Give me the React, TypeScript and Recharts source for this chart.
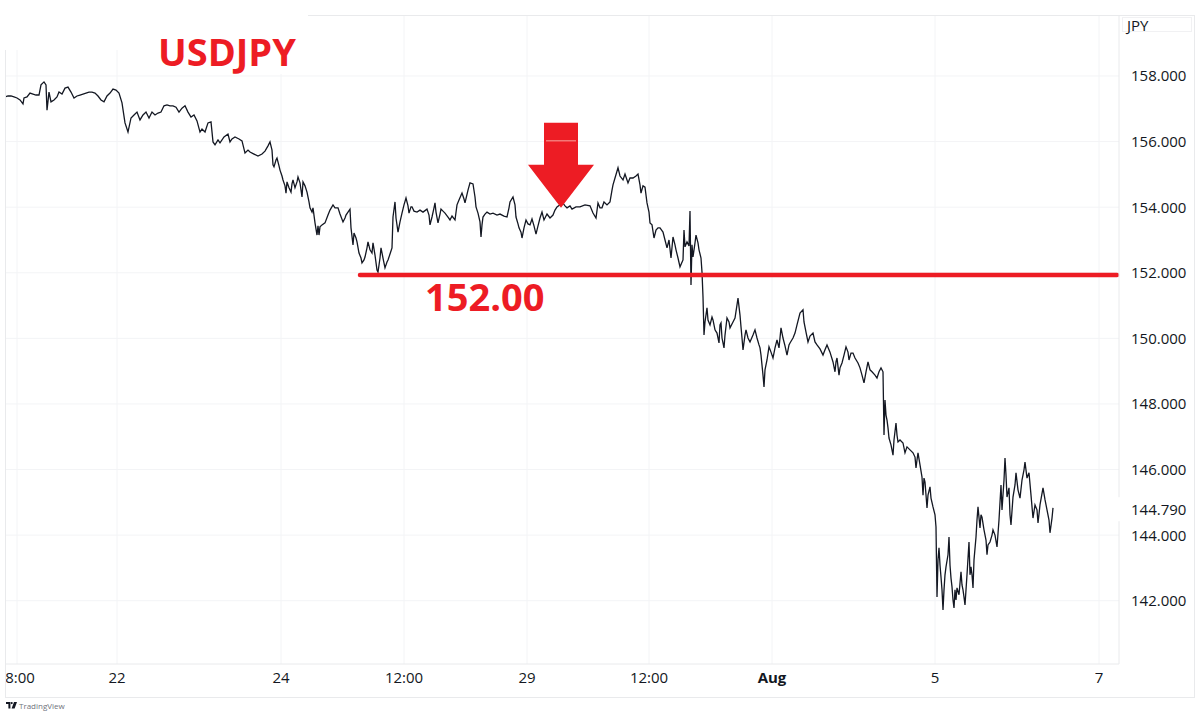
import React from "react";
import { ComposedChart, Line, XAxis, YAxis, CartesianGrid, ReferenceLine, ReferenceDot } from "recharts";

// Time is counted in chart bars; one trading day is 82 bars, weekends are skipped.
const bars = [
  5,8,11,14,17,20,23,24,27,30,33,36,39,41,44,46,47,49,51,54,57,59,62,65,68,71,74,77,80,83,86,89,92,95,98,101,104,107,110,113,116,119,122,
  125,128,131,134,137,140,143,146,149,152,155,158,161,164,167,170,173,176,179,182,185,188,191,194,197,200,202,205,208,211,
  213,215,218,220,224,228,230,232,235,239,242,245,248,250,254,258,262,265,268,270,272,273,274,276,277,279,280,282,283,285,286,287,289,291,292,293,295,297,298,300,302,303,305,307,309,310,312,313,315,317,318,319,320,322,325,328,330,333,335,338,340,343,345,346,348,350,351,353,354,356,357,359,361,362,364,365,367,368,370,372,373,375,377,378,380,381,383,385,387,388,390,392,393,395,396,398,400,402,404,406,408,409,411,412,414,417,
  420,423,427,429,430,432,434,435,436,438,440,441,443,445,448,450,452,455,457,459,462,464,465,468,470,473,475,476,478,480,481,482,483,485,487,490,493,497,500,504,507,509,510,513,515,516,518,519,521,522,524,526,528,530,532,534,536,538,540,542,544,547,550,553,555,557,560,562,565,567,570,572,576,580,585,590,593,596,598,600,602,604,607,610,612,613,615,618,620,623,625,628,630,633,636,638,640,641,643,645,647,649,650,652,654,656,658,660,663,665,667,669,671,673,675,676,678,680,
  683,684,685,687,689,690,691,692,693,695,696,698,699,701,702,703,704,705,707,708,710,712,713,715,717,719,720,721,722,724,725,727,729,730,733,735,737,738,740,741,742,743,745,746,748,750,753,755,757,759,760,761,763,764,765,767,769,771,773,775,777,779,781,783,785,787,789,790,793,795,797,800,803,804,806,808,810,813,815,817,820,823,825,827,830,833,835,836,837,839,840,842,844,846,848,849,851,853,855,858,860,862,864,866,868,870,872,875,877,879,881,883,
  884,885,886,887,888,889,891,893,894,896,897,898,900,903,905,907,910,913,915,916,917,918,920,922,923,924,925,927,928,930,931,933,935,936,937,938,939,940,941,942,943,944,945,946,948,949,950,951,952,953,954,955,956,957,959,961,962,963,964,965,967,969,970,971,972,973,974,976,977,978,980,981,982,984,986,987,988,990,992,993,995,997,999,1001,1002,1004,1005,1006,1007,1009,1010,1011,1013,1015,1016,1018,1020,1022,1024,1025,1027,1029,1031,1033,1035,1037,1038,1040,1043,1045,1047,1049,1050,1052,1053,
];

const prices = [
  157.36,157.39,157.39,157.36,157.33,157.27,157.15,157.33,157.36,157.48,157.45,157.42,157.42,157.73,157.82,157.73,156.96,157.51,157.21,157.27,157.36,157.51,157.45,157.63,157.66,157.51,157.33,157.39,157.42,157.45,157.48,157.51,157.51,157.48,157.39,157.27,157.21,157.39,157.48,157.60,157.57,157.48,157.18,
  156.57,156.29,156.72,156.81,156.90,156.66,156.81,156.90,156.72,156.90,156.81,156.87,156.90,157.09,157.12,157.09,157.09,157.05,156.90,157.02,157.09,156.90,156.75,156.81,156.63,156.29,156.38,156.29,156.57,156.60,
  155.99,155.90,156.05,155.96,156.14,156.23,155.99,156.08,156.14,156.08,156.02,155.65,155.74,155.68,155.62,155.56,155.62,155.71,155.87,155.99,155.74,155.29,155.23,155.44,155.50,155.26,155.13,154.95,154.83,154.65,154.43,154.77,154.59,154.46,154.71,154.83,154.59,154.77,154.92,154.74,154.31,154.77,154.65,154.46,154.16,153.98,153.85,153.98,153.52,153.15,153.43,153.15,153.40,153.46,153.52,153.76,153.91,154.07,153.98,153.98,153.79,153.55,153.67,153.76,153.85,153.94,153.37,152.85,153.21,153.06,152.94,152.60,152.45,152.30,152.39,152.48,152.76,152.94,152.70,152.60,152.91,152.54,152.08,152.02,152.45,152.76,152.45,152.15,152.33,152.39,152.57,152.76,153.70,154.16,153.67,153.24,153.55,153.82,154.07,154.28,154.04,153.82,154.01,154.01,153.88,153.85,
  153.91,153.85,153.94,153.76,153.46,153.70,153.98,154.13,153.85,153.52,153.79,153.94,153.88,153.82,153.70,153.61,153.73,153.61,154.07,154.22,154.43,154.25,154.13,154.52,154.74,154.71,154.31,154.01,153.82,153.55,153.09,153.46,153.70,153.79,153.85,153.79,153.82,153.76,153.79,153.73,153.70,153.98,154.16,154.31,154.07,153.70,153.49,153.37,153.24,153.06,153.37,153.61,153.49,153.46,153.64,153.43,153.18,153.43,153.67,153.85,153.61,153.79,153.67,153.76,153.91,154.01,154.07,154.16,154.04,153.98,154.04,153.94,154.01,154.01,154.07,154.04,153.82,153.67,154.13,153.98,153.98,154.16,154.07,154.16,154.52,154.68,154.89,155.20,154.95,154.83,155.01,154.74,154.89,154.89,154.95,155.01,154.68,154.43,154.65,154.61,154.13,153.85,153.52,153.46,153.06,153.30,153.37,153.37,153.24,153.00,152.76,153.00,152.45,153.09,152.85,152.70,152.45,152.18,
  152.39,153.30,152.79,152.94,152.82,153.88,151.63,152.85,152.48,152.91,153.15,152.91,152.70,152.45,152.02,151.26,150.10,150.50,150.93,150.56,150.41,150.65,150.56,150.26,150.16,149.86,150.41,150.47,150.01,149.71,150.10,150.62,150.50,150.32,150.50,150.62,151.02,151.23,150.71,150.35,150.01,149.65,150.10,150.26,150.01,149.89,150.10,150.26,150.01,149.80,149.71,149.49,148.88,148.52,149.04,149.34,149.74,149.58,149.40,149.71,149.95,149.71,150.32,150.01,149.77,149.49,149.80,149.86,150.01,150.16,150.41,150.77,150.87,150.50,150.19,149.89,150.07,150.16,149.89,149.80,149.68,149.49,149.65,149.80,149.58,149.28,148.98,149.28,149.40,148.88,149.10,149.25,149.49,149.74,149.58,149.34,149.55,149.55,149.40,149.25,149.10,148.88,148.64,148.98,149.28,149.04,148.98,148.88,148.79,148.98,149.10,148.98,
  147.05,148.12,147.66,147.51,147.27,146.96,146.75,146.44,146.90,147.42,147.05,146.84,146.90,146.81,146.51,146.69,146.60,146.51,146.38,146.05,146.29,146.51,146.14,145.77,145.22,145.74,145.62,144.83,145.22,145.47,145.13,144.86,144.62,144.25,142.11,143.24,143.61,143.09,142.72,142.33,141.72,142.33,142.79,143.03,143.40,143.94,143.09,142.69,142.42,142.02,141.78,142.33,142.02,142.39,142.18,142.88,142.48,142.33,142.11,141.87,142.79,143.79,142.79,143.03,142.79,142.39,143.24,143.94,144.46,144.86,144.22,144.62,144.55,144.16,143.85,143.40,143.70,143.79,144.00,144.16,144.00,143.64,144.46,145.53,144.77,145.68,146.35,145.83,145.16,145.44,144.62,144.31,145.16,145.53,145.90,145.38,145.13,145.68,145.99,146.23,145.74,145.90,145.22,144.52,144.92,144.77,144.37,144.92,145.44,145.08,144.77,144.46,144.07,144.52,144.83,
];

const xTicks = [17, 117, 281, 404, 527, 649, 772, 935, 1099];
const xTickLabels = ["8:00", "22", "24", "12:00", "29", "12:00", "Aug", "5", "7"];
const priceGrid = [142, 144, 146, 148, 150, 152, 154, 156, 158];
const lastPrice = 144.79;
const supportLevel = 151.93;
const supportStart = 360;
const supportEnd = 1117;
const arrowBar = 561;
const arrowPrice = 153.98;

const RED = "#ed1c24";
const FONT = "'Open Sans', sans-serif";
const INK = "#131722";
const chartData = bars.map((bar, i) => ({ bar, price: prices[i] }));

function XTick({ x, y, payload }: any) {
  const i = xTicks.indexOf(payload.value);
  return (
    <text x={x + (i === 0 ? 3 : 0)} y={y + 11} textAnchor="middle" fontFamily={FONT} fontSize={15}
      fontWeight={xTickLabels[i] === "Aug" ? 700 : 400} fill={INK}>
      {xTickLabels[i]}
    </text>
  );
}

function YTick({ x, y, payload }: any) {
  const isLast = payload.value === lastPrice;
  return (
    <g>
      {isLast && <rect x={x - 13} y={y - 12} width={72} height={24} fill="#fff" />}
      <text x={x} y={y + 5.5} textAnchor="start" fontFamily={FONT} fontSize={15} fill={INK}>
        {payload.value.toFixed(3)}
      </text>
    </g>
  );
}

function Arrow({ cx, cy }: any) {
  const points = [
    [cx, cy], [cx - 33, cy - 43], [cx - 17, cy - 43], [cx - 17, cy - 85],
    [cx + 17, cy - 85], [cx + 17, cy - 43], [cx + 33, cy - 43],
  ].map((p) => p.join(",")).join(" ");
  return (
    <g>
      <polygon points={points} fill={RED} />
      <line x1={cx - 15} x2={cx + 15} y1={cy - 67} y2={cy - 67} stroke="#f7a6a0" strokeWidth={1} />
    </g>
  );
}

const box = (left: number, top: number, width: number, height: number, background: string): React.CSSProperties => ({
  position: "absolute", left, top, width, height, background,
});
const FRAME = "#e9eaec";

export default function App() {
  return (
    <div style={{ position: "absolute", left: 0, top: 0, width: 1200, height: 717, background: "#fff", overflow: "hidden" }}>
      <ComposedChart width={1200} height={717} data={chartData} margin={{ top: 15, right: 6, bottom: 20, left: 5 }}>
        <CartesianGrid stroke="#f3f4f6" strokeWidth={1} horizontalValues={priceGrid} verticalValues={xTicks} />
        <XAxis dataKey="bar" type="number" domain={[5, 1119]} ticks={xTicks} allowDataOverflow interval={0}
          height={33} tickLine={false} axisLine={{ stroke: FRAME }} tick={<XTick />} />
        <YAxis orientation="right" type="number" domain={[140.07, 159.86]} allowDataOverflow interval={0}
          ticks={[...priceGrid, lastPrice]} width={75} tickSize={0} tickMargin={12} tickLine={false}
          axisLine={{ stroke: FRAME }} tick={<YTick />} />
        <Line dataKey="price" type="linear" stroke={INK} strokeWidth={1.3} dot={false} isAnimationActive={false} />
        <ReferenceDot x={arrowBar} y={arrowPrice} r={1} shape={<Arrow />} />
        <ReferenceLine segment={[{ x: supportStart, y: supportLevel }, { x: supportEnd, y: supportLevel }]}
          stroke={RED} strokeWidth={4.5} strokeLinecap="round" />
      </ComposedChart>

      {/* white patch that hides the frame behind the title, as in the picture */}
      <div style={box(0, 0, 308, 50, "#fff")} />
      <div style={box(150, 0, 158, 74, "#fff")} />
      <div style={box(308, 15, 886, 1, FRAME)} />
      <div style={box(5, 50, 1, 647, FRAME)} />
      <div style={box(1194, 15, 1, 682, FRAME)} />
      <div style={box(5, 697, 1190, 1, FRAME)} />
      <div style={{ ...box(1122, 17, 70, 15, "transparent"), border: "1px solid #f1f1f3", boxSizing: "border-box" }} />
      <div style={{ position: "absolute", left: 1127, top: 15, fontFamily: FONT, fontSize: 15, lineHeight: "20px", color: INK }}>JPY</div>

      <div style={{ position: "absolute", left: 158, top: 25, fontFamily: FONT, fontSize: 38, fontWeight: 700, lineHeight: "52px", color: RED }}>USDJPY</div>
      <div style={{ position: "absolute", left: 425, top: 270, fontFamily: FONT, fontSize: 38, fontWeight: 700, lineHeight: "52px", color: RED }}>152.00</div>

      <svg style={{ position: "absolute", left: 6, top: 702 }} width={11} height={7} viewBox="0 0 11 7">
        <path d="M0 0H4.4V6.5H2.4V2H0Z M8 0H11L8.6 6.5H5.6Z" fill={INK} />
        <circle cx={5.7} cy={1.1} r={1.1} fill={INK} />
      </svg>
      <div style={{ position: "absolute", left: 19, top: 700, fontFamily: FONT, fontSize: 8, lineHeight: "11px", color: "#6f737c" }}>TradingView</div>
    </div>
  );
}
